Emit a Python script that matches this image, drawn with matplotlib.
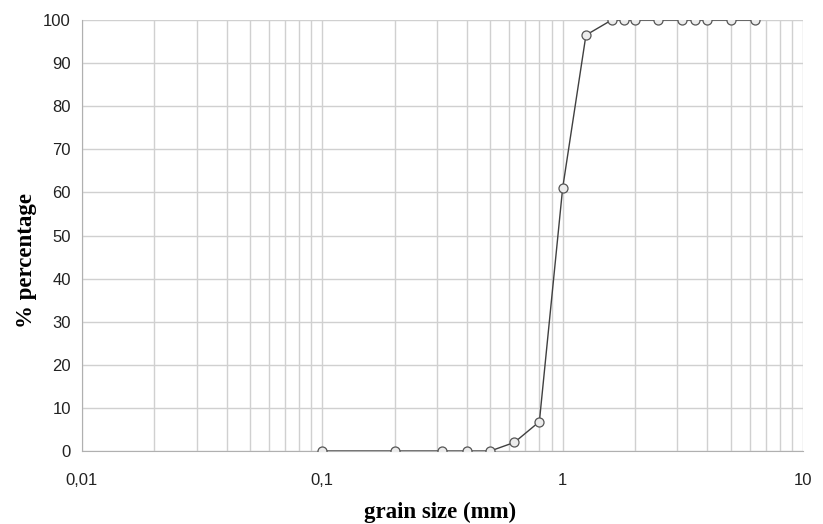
import matplotlib
matplotlib.use('Agg')
import matplotlib.pyplot as plt
from matplotlib.ticker import FixedLocator, LogLocator, NullFormatter

# grain size (mm) and cumulative percentage passing
grain_size = [0.1, 0.2, 0.315, 0.4, 0.5, 0.63, 0.8, 1.0, 1.25, 1.6, 1.8, 2.0, 2.5, 3.15, 3.55, 4.0, 5.0, 6.3]
percentage = [0, 0, 0, 0, 0, 2.0, 6.8, 61, 96.5, 100, 100, 100, 100, 100, 100, 100, 100, 100]

x_ticks = [0.01, 0.1, 1, 10]
x_tick_labels = ['0,01', '0,1', '1', '10']
y_ticks = list(range(0, 101, 10))

fig = plt.figure(figsize=(8.23, 5.24), dpi=100)
ax = fig.add_axes([0.0996, 0.1393, 0.8761, 0.8225])

ax.plot(grain_size, percentage, color='#404040', lw=1.0,
        marker='o', markersize=6.5, markerfacecolor='#ececec',
        markeredgecolor='#555555', markeredgewidth=0.9, zorder=3)

ax.set_xscale('log')
ax.set_xlim(0.01, 10)
ax.set_ylim(0, 100)

ax.xaxis.set_major_locator(FixedLocator(x_ticks))
ax.set_xticklabels(x_tick_labels)
ax.xaxis.set_minor_locator(LogLocator(base=10, subs=range(2, 10)))
ax.xaxis.set_minor_formatter(NullFormatter())
ax.set_yticks(y_ticks)

ax.grid(which='major', color='#d0d0d0', lw=1.0)
ax.grid(which='minor', axis='x', color='#d0d0d0', lw=1.0)
ax.set_axisbelow(True)

for s in ['top', 'right']:
    ax.spines[s].set_visible(False)
for s in ['left', 'bottom']:
    ax.spines[s].set_color('#b0b0b0')

ax.tick_params(which='both', length=0, labelsize=12, colors='#222222')
ax.tick_params(axis='x', pad=16)
ax.tick_params(axis='y', pad=8)
for lab in ax.get_xticklabels() + ax.get_yticklabels():
    lab.set_family('Liberation Sans')

ax.set_xlabel('grain size (mm)', family='Liberation Serif', fontweight='bold', fontsize=16.5)
ax.set_ylabel('% percentage', family='Liberation Serif', fontweight='bold', fontsize=16.5)
ax.xaxis.set_label_coords(0.496, -0.118)
ax.yaxis.set_label_coords(-0.062, 0.443)

fig.savefig('out.png', dpi=100)
